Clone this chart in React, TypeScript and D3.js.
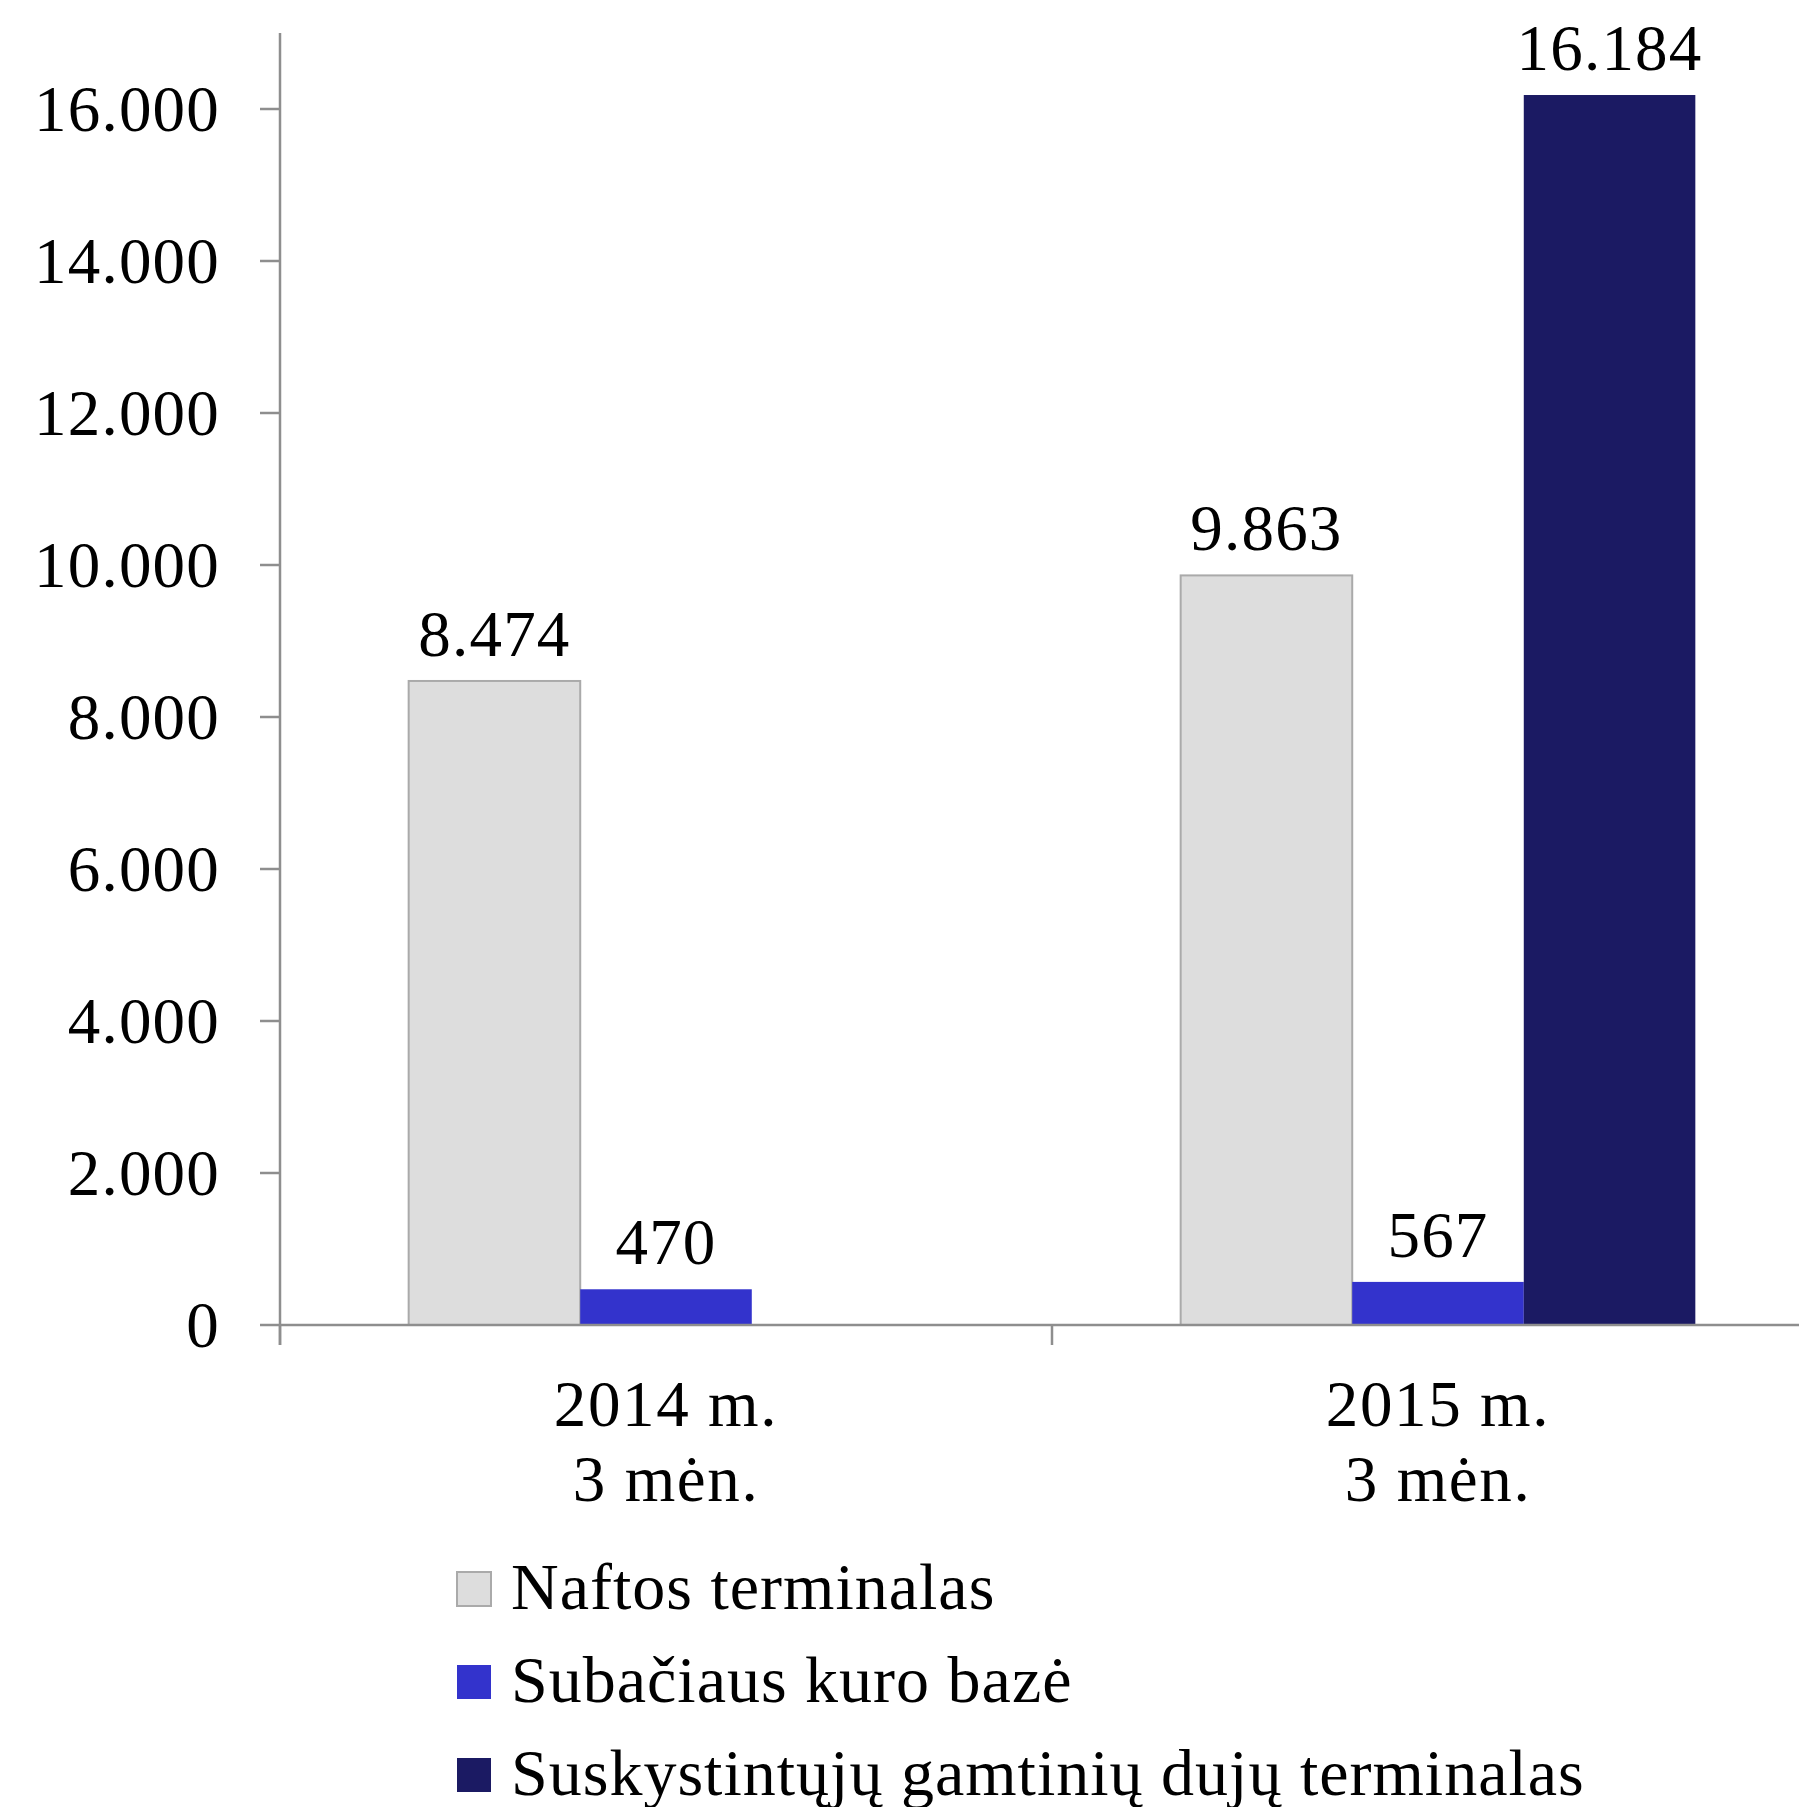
import React from "react";
import * as d3 from "d3";

// chart data
const categories = ["2014", "2015"];
const categoryLines: string[][] = [
  ["2014 m.", "3 mėn."],
  ["2015 m.", "3 mėn."],
];
const seriesNames = [
  "Naftos terminalas",
  "Subačiaus kuro bazė",
  "Suskystintųjų gamtinių dujų terminalas",
];
const naftos = [8474, 9863];
const subacius = [470, 567];
const sgd: (number | null)[] = [null, 16184];
const yTicks = [0, 2000, 4000, 6000, 8000, 10000, 12000, 14000, 16000];

const seriesValues = [naftos, subacius, sgd];
const fills = ["#dddddd", "#3333cc", "#1b1a63"];
const strokes = ["#aaaaaa", "none", "none"];

const WIDTH = 1799;
const HEIGHT = 1807;
const margin = { left: 280, top: 33, plotBottom: 1325, right: 1824 };
const FONT = "'Liberation Serif', 'Times New Roman', serif";

const locale = d3.formatLocale({
  decimal: ",",
  thousands: ".",
  grouping: [3],
  currency: ["", ""],
});
const fmt = locale.format(",d");

export default function App() {
  const x0 = d3
    .scaleBand<string>()
    .domain(categories)
    .range([margin.left, margin.right])
    .paddingInner(1 / 3)
    .paddingOuter(1 / 6);

  const x1 = d3
    .scaleBand<number>()
    .domain(seriesNames.map((_, i) => i))
    .range([0, x0.bandwidth()])
    .padding(0);

  const y = d3
    .scaleLinear()
    .domain([0, 17000])
    .range([margin.plotBottom, margin.top]);

  const step = x0.step();
  const catBounds = categories.map((_, i) => margin.left + i * step);
  const axisColor = "#8e8e8e";

  return (
    <svg
      width={WIDTH}
      height={HEIGHT}
      style={{ position: "absolute", left: 0, top: 0, background: "#fff" }}
      fontFamily={FONT}
      letterSpacing={1.2}
    >
      {/* bars */}
      {categories.map((c, ci) => (
        <g key={c} transform={`translate(${x0(c)},0)`}>
          {seriesValues.map((vals, si) => {
            const v = vals[ci];
            if (v == null) return null;
            const bx = x1(si) ?? 0;
            const by = y(v);
            return (
              <g key={si}>
                <rect
                  x={bx}
                  y={by}
                  width={x1.bandwidth()}
                  height={y(0) - by}
                  fill={fills[si]}
                  stroke={strokes[si]}
                  strokeWidth={2}
                />
                <text
                  x={bx + x1.bandwidth() / 2}
                  y={by - 25}
                  textAnchor="middle"
                  fontSize={65}
                  fill="#000"
                >
                  {fmt(v)}
                </text>
              </g>
            );
          })}
        </g>
      ))}

      {/* y axis */}
      <line
        x1={margin.left}
        x2={margin.left}
        y1={margin.top}
        y2={margin.plotBottom + 20}
        stroke={axisColor}
        strokeWidth={2.5}
      />
      {yTicks.map((t) => (
        <g key={t}>
          <line
            x1={margin.left - 20}
            x2={margin.left}
            y1={y(t)}
            y2={y(t)}
            stroke={axisColor}
            strokeWidth={2.5}
          />
          <text
            x={220}
            y={y(t) + 22}
            textAnchor="end"
            fontSize={65}
            fill="#000"
          >
            {t === 0 ? "0" : fmt(t)}
          </text>
        </g>
      ))}

      {/* x axis */}
      <line
        x1={margin.left}
        x2={WIDTH}
        y1={y(0)}
        y2={y(0)}
        stroke={axisColor}
        strokeWidth={2.5}
      />
      {catBounds.map((b, i) => (
        <line
          key={i}
          x1={b}
          x2={b}
          y1={y(0)}
          y2={y(0) + 20}
          stroke={axisColor}
          strokeWidth={2.5}
        />
      ))}
      {categories.map((c, ci) => (
        <text
          key={c}
          x={(x0(c) ?? 0) + x0.bandwidth() / 2}
          textAnchor="middle"
          fontSize={65}
          fill="#000"
          letterSpacing={1.6}
        >
          {categoryLines[ci].map((line, li) => (
            <tspan key={li} x={(x0(c) ?? 0) + x0.bandwidth() / 2} y={1426 + li * 75}>
              {line}
            </tspan>
          ))}
        </text>
      ))}

      {/* legend */}
      {seriesNames.map((name, i) => (
        <g key={name} transform={`translate(457,${1572 + i * 93})`}>
          <rect
            x={0}
            y={0}
            width={34}
            height={34}
            fill={fills[i]}
            stroke={strokes[i]}
            strokeWidth={2}
          />
          <text x={54} y={37} fontSize={66} fill="#000" letterSpacing={1}>
            {name}
          </text>
        </g>
      ))}
    </svg>
  );
}
